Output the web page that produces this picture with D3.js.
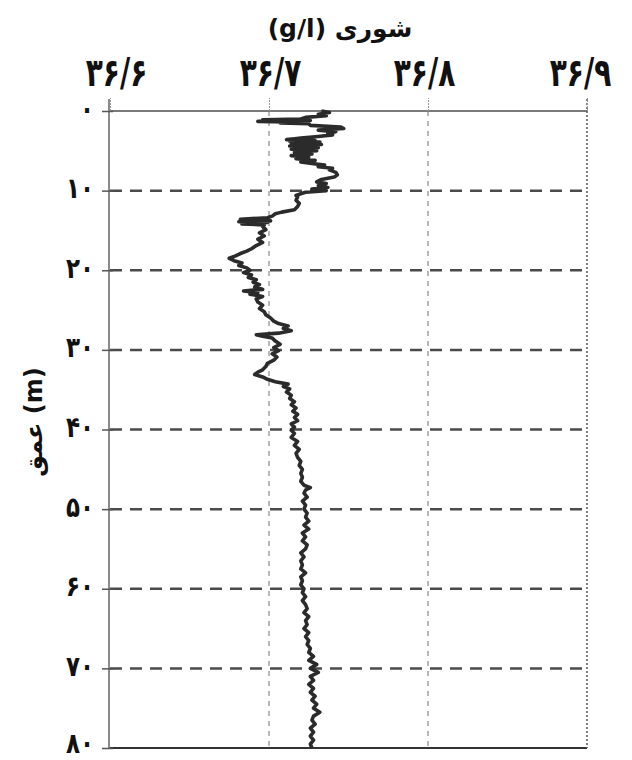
<!DOCTYPE html>
<html>
<head>
<meta charset="utf-8">
<script src="https://cdn.jsdelivr.net/npm/d3@7"></script>
<style>
  html, body { margin: 0; padding: 0; background: #fff; }
  svg { display: block; }
  text { font-family: "DejaVu Sans", "Noto Sans", sans-serif; font-weight: bold; fill: #111; }
</style>
</head>
<body>
<div id="chart"></div>
<script>
// Salinity profile: depth (m) and salinity (g/l) samples
const depth = [
  0.0, 0.2, 0.4, 0.6, 0.8, 1.0, 1.1, 1.2, 1.3, 1.4, 1.5, 1.6, 1.8, 2.0, 2.2, 2.4, 2.6, 2.8, 3.0, 3.2,
  3.4, 3.6, 3.7, 3.8, 3.9, 4.0, 4.2, 4.4, 4.6, 4.8, 5.0, 5.2, 5.4, 5.6, 5.8, 6.0, 6.2, 6.4, 6.6, 6.8,
  7.0, 7.2, 7.4, 7.7, 8.0, 8.3, 8.6, 8.9, 9.1, 9.4, 9.6, 9.8, 10.0, 10.2, 10.4, 10.6, 10.8, 11.2, 11.6, 12.0,
  12.4, 12.7, 12.9, 13.2, 13.4, 13.6, 13.8, 13.9, 14.0, 14.2, 14.3, 14.5, 14.9, 15.3, 15.7, 16.1, 16.5, 16.9, 17.3, 17.6,
  17.9, 18.2, 18.5, 18.8, 19.1, 19.4, 19.7, 20.0, 20.3, 20.6, 20.9, 21.2, 21.5, 21.8, 22.1, 22.4, 22.6, 22.8, 23.0, 23.3,
  23.6, 24.0, 24.4, 24.8, 25.2, 25.6, 26.0, 26.4, 26.7, 27.0, 27.3, 27.6, 27.9, 28.1, 28.3, 28.5, 28.9, 29.3, 29.7, 30.1,
  30.5, 30.9, 31.3, 31.7, 32.1, 32.5, 32.8, 33.1, 33.4, 33.7, 34.0, 34.3, 34.6, 34.9, 35.3, 35.7, 36.1, 36.5, 36.9, 37.3,
  37.7, 38.1, 38.5, 38.9, 39.3, 39.7, 40.1, 40.5, 41.0, 41.5, 42.0, 42.5, 43.0, 43.5, 44.0, 44.5, 45.0, 45.5, 46.0, 46.5,
  47.0, 47.3, 47.6, 48.0, 48.5, 49.0, 49.5, 50.0, 50.5, 51.0, 51.5, 52.0, 52.5, 53.0, 53.5, 54.0, 54.5, 55.0, 55.5, 56.0,
  56.5, 57.0, 57.5, 58.0, 58.5, 59.0, 59.5, 60.0, 60.5, 61.0, 61.5, 62.0, 62.5, 63.0, 63.5, 64.0, 64.5, 65.0, 65.5, 66.0,
  66.5, 67.0, 67.5, 68.0, 68.5, 69.0, 69.5, 70.0, 70.5, 71.0, 71.5, 72.0, 72.5, 73.0, 73.5, 74.0, 74.5, 75.0, 75.5, 76.0,
  76.5, 77.0, 77.5, 78.0, 78.5, 79.0, 79.5, 80.0
];
const salinity = [
  36.733, 36.738, 36.731, 36.736, 36.723, 36.720, 36.696, 36.726, 36.693, 36.723, 36.707, 36.725, 36.726, 36.745, 36.747, 36.731, 36.742, 36.737, 36.740, 36.731,
  36.720, 36.711, 36.729, 36.713, 36.732, 36.714, 36.733, 36.713, 36.731, 36.714, 36.730, 36.716, 36.727, 36.714, 36.725, 36.717, 36.729, 36.720, 36.727, 36.735,
  36.731, 36.740, 36.738, 36.742, 36.743, 36.741, 36.733, 36.730, 36.736, 36.731, 36.737, 36.727, 36.736, 36.723, 36.720, 36.717, 36.718, 36.717, 36.719, 36.718,
  36.716, 36.708, 36.704, 36.702, 36.699, 36.682, 36.701, 36.681, 36.699, 36.683, 36.697, 36.696, 36.698, 36.694, 36.697, 36.693, 36.696, 36.692, 36.689, 36.686,
  36.682, 36.679, 36.675, 36.678, 36.683, 36.681, 36.686, 36.688, 36.684, 36.689, 36.687, 36.692, 36.690, 36.694, 36.691, 36.696, 36.684, 36.693, 36.688, 36.696,
  36.692, 36.693, 36.696, 36.694, 36.697, 36.698, 36.701, 36.703, 36.706, 36.712, 36.709, 36.714, 36.706, 36.692, 36.696, 36.702, 36.704, 36.707, 36.703, 36.706,
  36.702, 36.705, 36.703, 36.699, 36.698, 36.696, 36.693, 36.691, 36.696, 36.699, 36.704, 36.712, 36.709, 36.713, 36.711, 36.714, 36.713, 36.716, 36.714, 36.717,
  36.715, 36.718, 36.716, 36.718, 36.714, 36.716, 36.714, 36.716, 36.714, 36.718, 36.716, 36.719, 36.717, 36.718, 36.720, 36.719, 36.721, 36.720, 36.721, 36.720,
  36.722, 36.726, 36.723, 36.722, 36.724, 36.721, 36.723, 36.722, 36.724, 36.723, 36.725, 36.722, 36.725, 36.721, 36.723, 36.721, 36.724, 36.723, 36.720, 36.722,
  36.720, 36.721, 36.720, 36.723, 36.720, 36.721, 36.720, 36.722, 36.721, 36.723, 36.721, 36.723, 36.724, 36.722, 36.725, 36.723, 36.724, 36.722, 36.725, 36.723,
  36.725, 36.724, 36.726, 36.725, 36.728, 36.725, 36.730, 36.726, 36.731, 36.726, 36.728, 36.725, 36.728, 36.726, 36.729, 36.727, 36.730, 36.728, 36.732, 36.728,
  36.727, 36.729, 36.726, 36.728, 36.726, 36.728, 36.726, 36.727
];
const salinityTicks = [36.6, 36.7, 36.8, 36.9];
const depthTicks = [0, 10, 20, 30, 40, 50, 60, 70, 80];
const xTitle = "(g/l) شوری";
const yTitle = "عمق (m)";

const W = 632, H = 760;
const plotL = 110, plotR = 587, plotT = 111, plotB = 748;

const svg = d3.select("#chart").append("svg").attr("width", W).attr("height", H);

const x = d3.scaleLinear().domain([36.6, 36.9]).range([plotL, plotR]);
const y = d3.scaleLinear().domain([0, 80]).range([plotT, plotB]);

// Persian digits, with "/" as decimal separator
const fa = s => String(s).replace(/[0-9]/g, d => "۰۱۲۳۴۵۶۷۸۹"[+d]).replace(".", "/");

// vertical grid (light dashed)
svg.append("g").selectAll("line")
  .data(salinityTicks.slice(1, -1))
  .join("line")
  .attr("x1", d => x(d)).attr("x2", d => x(d))
  .attr("y1", plotT).attr("y2", plotB)
  .attr("stroke", "#8a8a8a").attr("stroke-width", 1.2)
  .attr("stroke-dasharray", "5,5");

// horizontal grid (heavy dashed)
svg.append("g").selectAll("line")
  .data(depthTicks.slice(1, -1))
  .join("line")
  .attr("x1", plotL).attr("x2", plotR)
  .attr("y1", d => y(d)).attr("y2", d => y(d))
  .attr("stroke", "#4a4a4a").attr("stroke-width", 2.5)
  .attr("stroke-dasharray", "12,8");

// frame
svg.append("line").attr("x1", plotL).attr("x2", plotR).attr("y1", plotT).attr("y2", plotT)
  .attr("stroke", "#7a7a7a").attr("stroke-width", 2);
svg.append("line").attr("x1", plotL - 2).attr("x2", plotR).attr("y1", plotB).attr("y2", plotB)
  .attr("stroke", "#333").attr("stroke-width", 2);
svg.append("line").attr("x1", plotR).attr("x2", plotR).attr("y1", plotT - 12).attr("y2", plotB)
  .attr("stroke", "#555").attr("stroke-width", 1.5).attr("stroke-dasharray", "2,2");

// top axis
const xAxis = svg.append("g")
  .attr("transform", `translate(0,${plotT})`)
  .call(d3.axisTop(x).tickValues(salinityTicks).tickSize(13).tickFormat(fa));
xAxis.select(".domain").remove();
xAxis.selectAll(".tick line").attr("stroke", "#999").attr("stroke-width", 1).attr("stroke-dasharray", "2,1");
const xShift = [6, 1, -4, -7];
xAxis.selectAll(".tick text")
  .attr("font-size", 28).attr("fill", "#111")
  .attr("font-family", "\"DejaVu Sans\", sans-serif").attr("font-weight", "bold")
  .attr("y", null).attr("dy", null)
  .attr("transform", (d, i) => `translate(${xShift[i]},-25) scale(1,1.4)`);

// left axis
const yAxis = svg.append("g")
  .attr("transform", `translate(${plotL - 1},0)`)
  .call(d3.axisLeft(y).tickValues(depthTicks).tickSizeInner(7).tickSizeOuter(0).tickFormat(fa));
yAxis.select(".domain").attr("stroke", "#8a8a8a").attr("stroke-width", 2)
  .attr("d", `M0,${plotT - 12}V${plotB}`);
yAxis.selectAll(".tick line").attr("x2", 4).attr("x1", -7).attr("stroke", "#555").attr("stroke-width", 1.5);
yAxis.selectAll(".tick text")
  .attr("font-size", 23).attr("fill", "#111")
  .attr("font-family", "\"DejaVu Sans\", sans-serif").attr("font-weight", "bold")
  .attr("x", null).attr("dy", null)
  .attr("transform", (d, i) => `translate(-15,${i === depthTicks.length - 1 ? 4 : 7}) scale(1,1.25)`);

// profile line
const pts = depth.map((d, i) => [salinity[i], d]);
svg.append("path")
  .datum(pts)
  .attr("fill", "none")
  .attr("stroke", "#2b2b2b")
  .attr("stroke-width", 3.6)
  .attr("stroke-linejoin", "round")
  .attr("d", d3.line().x(p => x(p[0])).y(p => y(p[1])));

// titles
svg.append("text")
  .attr("x", 340).attr("y", 37)
  .attr("text-anchor", "middle")
  .attr("font-size", 25)
  .text(xTitle);

svg.append("text")
  .attr("transform", "translate(42,422) rotate(-90)")
  .attr("text-anchor", "middle")
  .attr("font-size", 24)
  .text(yTitle);
</script>
</body>
</html>
